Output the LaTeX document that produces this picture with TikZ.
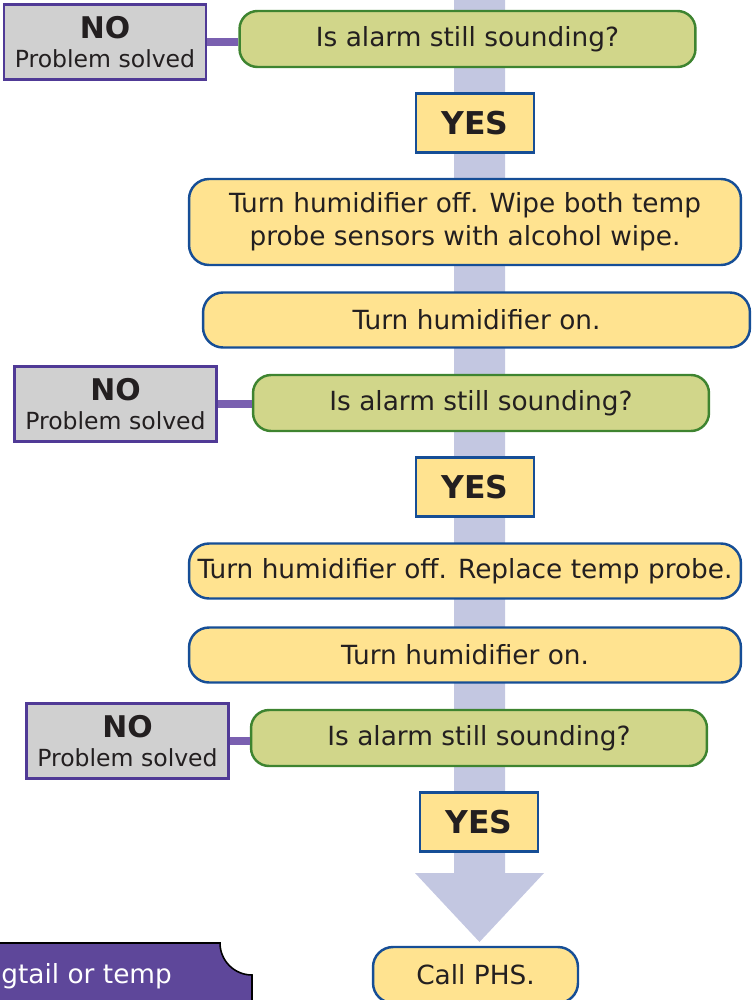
\documentclass[tikz,border=0pt]{standalone}
\usepackage{fontspec}
\setmainfont{DejaVu Sans}
\usetikzlibrary{positioning}
\definecolor{shaftblue}{RGB}{195,199,225}
\definecolor{askfill}{RGB}{209,214,138}
\definecolor{askgreen}{RGB}{62,132,48}
\definecolor{stepfill}{RGB}{255,227,144}
\definecolor{stepblue}{RGB}{22,78,150}
\definecolor{nogray}{RGB}{208,208,208}
\definecolor{nopurple}{RGB}{80,58,150}
\definecolor{linkpurple}{RGB}{122,96,176}
\definecolor{notepurple}{RGB}{94,71,154}
\definecolor{ink}{RGB}{35,31,32}
\tikzset{
  question/.style={rectangle, draw=askgreen, fill=askfill, line width=1.4pt, rounded corners=0.36cm, minimum width=9.12cm, minimum height=1.12cm, text=ink, font=\fontsize{15}{18.8}\selectfont},
  action/.style={rectangle, draw=stepblue, fill=stepfill, line width=1.4pt, rounded corners=0.4cm, minimum height=1.1cm, text=ink, align=center, font=\fontsize{15}{18.8}\selectfont},
  answer/.style={rectangle, draw=stepblue, fill=stepfill, line width=1.4pt, minimum width=2.36cm, minimum height=1.18cm, text=ink, font=\bfseries\fontsize{17.9}{20}\selectfont},
  solved/.style={rectangle, draw=nopurple, fill=nogray, line width=1.4pt, minimum width=4.04cm, minimum height=1.5cm, inner sep=0pt, align=center, text=ink, font=\fontsize{13.4}{16.5}\selectfont},
  link/.style={draw=linkpurple, line width=0.16cm}
  }
\newcommand{\nolabel}{{\bfseries\fontsize{17}{16.5}\selectfont NO}\\Problem solved}

\begin{document}
\begin{tikzpicture}[x=0.02cm, y=-0.02cm]
	\useasboundingbox (0,0) rectangle (751,1000);
	\clip (0,0) rectangle (751,1000);

	% Big arrow behind the steps
	\fill[shaftblue] (454,-5) -- (454,873) -- (415,873) -- (479.5,942) -- (544,873) -- (505,873) -- (505,-5) -- cycle;

	% Nodes
	\node[question] (ask1) at (467.5,39) {Is alarm still sounding?};
	\node[solved] (no1) at (105,42) {\nolabel};
	\node[answer] (yes1) at (475,123) {YES};
	\node[action, minimum width=11.04cm, minimum height=1.72cm] (wipe) at (465,222) {Turn humidifier off. Wipe both temp\\probe sensors with alcohol wipe.};
	\node[action, minimum width=10.94cm] (on1) at (476.5,320) {Turn humidifier on.};
	\node[question] (ask2) at (481,403) {Is alarm still sounding?};
	\node[solved] (no2) at (115.5,404) {\nolabel};
	\node[answer] (yes2) at (475,487) {YES};
	\node[action, minimum width=11.04cm] (replace) at (465,571) {Turn humidifier off. Replace temp probe.};
	\node[action, minimum width=11.04cm] (on2) at (465,655) {Turn humidifier on.};
	\node[question] (ask3) at (479,738) {Is alarm still sounding?};
	\node[solved] (no3) at (127.5,741) {\nolabel};
	\node[answer] (yes3) at (479,822) {YES};
	\node[action, minimum width=4.1cm, minimum height=1.12cm] (phs) at (475.5,975) {Call PHS.};

	% Note at the bottom left
	\draw[fill=notepurple, draw=black, line width=0.9pt] (-20,943) -- (220,943) arc[start angle=180, end angle=270, radius=0.64cm] -- (252,1020) -- (-20,1020) -- cycle;
	\node[anchor=base west, text=white, inner sep=0pt, font=\fontsize{15}{18.8}\selectfont] (note) at (1,983) {gtail or temp};

	% Links
	\draw[link] (no1.east) -- (no1.east -| ask1.west);
	\draw[link] (no2.east) -- (no2.east -| ask2.west);
	\draw[link] (no3.east) -- (no3.east -| ask3.west);
\end{tikzpicture}
\end{document}
